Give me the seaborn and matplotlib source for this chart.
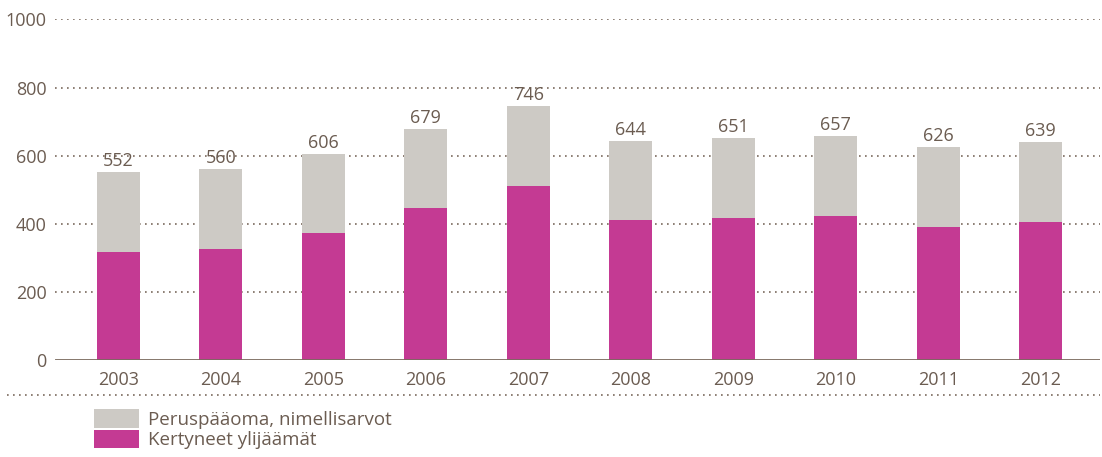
import matplotlib
matplotlib.use("Agg")
import matplotlib.pyplot as plt
import matplotlib.patches as mpatches
from matplotlib.lines import Line2D
import seaborn as sns
import pandas as pd

years = ["2003", "2004", "2005", "2006", "2007", "2008", "2009", "2010", "2011", "2012"]
totals = [552, 560, 606, 679, 746, 644, 651, 657, 626, 639]
surplus = [318, 326, 373, 446, 512, 411, 417, 423, 392, 405]
yticks = [0, 200, 400, 600, 800, 1000]
legend_labels = ["Peruspääoma, nimellisarvot", "Kertyneet ylijäämät"]

GRAY = "#cdcac5"
MAGENTA = "#c43a93"
TEXT = "#6b5c51"
GRID = "#7a6a5e"

sns.set_theme(style="white")
plt.rcParams["font.family"] = ["Open Sans", "DejaVu Sans"]

df = pd.DataFrame({"year": years, "total": totals, "surplus": surplus})

fig = plt.figure(figsize=(11.02, 4.57), dpi=100)
ax = fig.add_axes([55 / 1102, 1 - 360.3 / 457, 1045 / 1102, 341 / 457])

sns.barplot(data=df, x="year", y="total", order=years, color=GRAY, width=0.42,
            saturation=1, ax=ax, zorder=3, linewidth=0)
sns.barplot(data=df, x="year", y="surplus", order=years, color=MAGENTA, width=0.42,
            saturation=1, ax=ax, zorder=3, linewidth=0)

ax.set_xlim(-0.62, 9.58)
ax.set_ylim(0, 1000)
ax.set_yticks(yticks)
ax.set_xlabel("")
ax.set_ylabel("")
for s in ax.spines.values():
    s.set_visible(False)
ax.tick_params(axis="both", length=0, colors=TEXT, labelsize=13)
ax.tick_params(axis="y", pad=6)
ax.tick_params(axis="x", pad=8)

for v in yticks[1:]:
    ax.axhline(v, color=GRID, lw=1.2, ls=(0, (1, 2.6)), zorder=1)
ax.axhline(0, color=GRID, lw=2, zorder=4)

for i, t in enumerate(totals):
    ax.text(i, t + 6, str(t), ha="center", va="bottom", color=TEXT, fontsize=13, zorder=5)

# dotted separator line below axis labels
fig.add_artist(Line2D([7 / 1102, 1100 / 1102], [1 - 395 / 457, 1 - 395 / 457],
                      color=GRID, lw=1.2, ls=(0, (1, 2.6)), transform=fig.transFigure))

handles = [mpatches.Patch(facecolor=GRAY, edgecolor="none"),
           mpatches.Patch(facecolor=MAGENTA, edgecolor="none")]
leg = fig.legend(handles, legend_labels, loc="upper left",
                 bbox_to_anchor=(81 / 1102, 1 - 396 / 457), frameon=False,
                 fontsize=13.5, handlelength=2.4, handleheight=1.15,
                 handletextpad=0.45, labelspacing=0.05, borderpad=0.2)
for t in leg.get_texts():
    t.set_color(TEXT)

fig.savefig("out.png", dpi=100)
